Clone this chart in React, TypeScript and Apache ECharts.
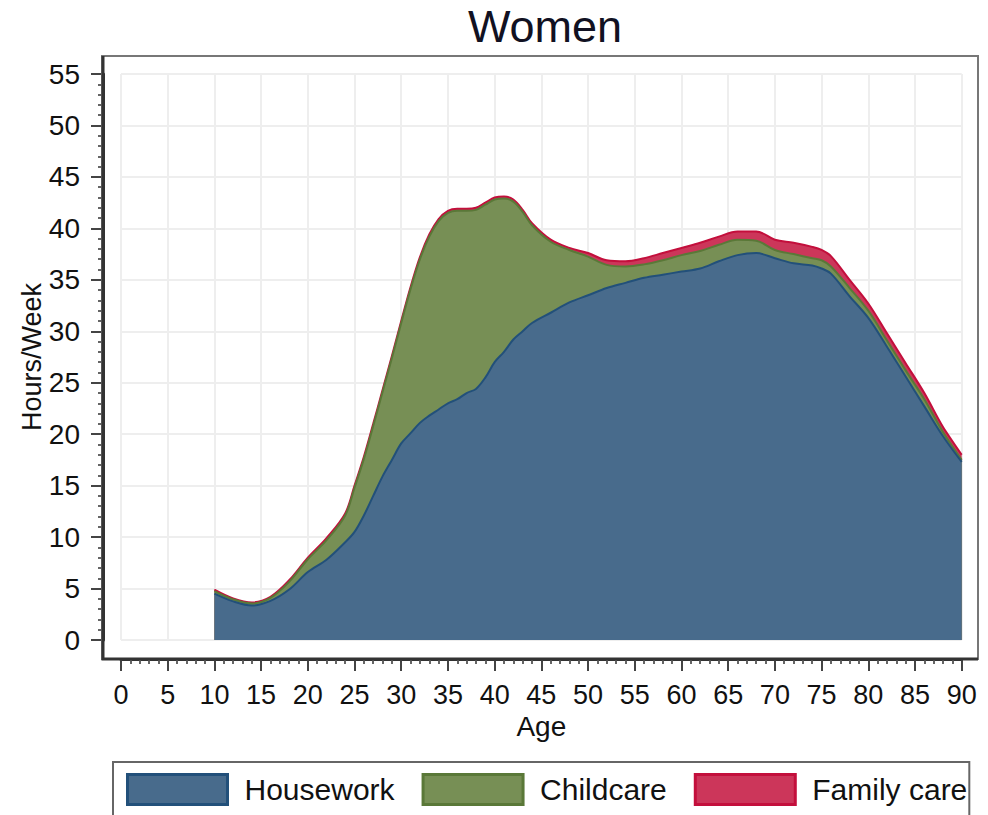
import React, { useEffect, useRef } from "react";
import * as echarts from "echarts";

const titleText = "Women";
const xName = "Age";
const yName = "Hours/Week";
const seriesNames = ["Housework", "Childcare", "Family care"];

const ages = [
  10, 12, 14, 16, 18, 20, 22, 24,
  25, 26, 27, 28, 29, 30, 31, 32, 33, 34, 35, 36, 37, 38, 39, 40, 41, 42, 43, 44,
  46, 48,
  50, 52, 54, 56, 58, 60, 62, 64, 66, 68, 70, 72, 74,
  75, 76,
  78, 80, 82, 84, 86, 88, 90,
];

const housework = [
  4.5, 3.75, 3.35, 3.8, 4.9, 6.6, 7.8, 9.5,
  10.5, 12.1, 14.0, 15.9, 17.5, 19.1, 20.1, 21.1, 21.8, 22.4, 23.0, 23.4, 24.0, 24.4, 25.5, 27.0, 28.0, 29.2, 30.0, 30.8,
  31.8, 32.8,
  33.5, 34.2, 34.7, 35.2, 35.5, 35.8, 36.1, 36.8, 37.4, 37.6, 37.1, 36.6, 36.4,
  36.1, 35.6,
  33.4, 31.3, 28.5, 25.6, 22.7, 19.8, 17.3,
];

const childcare = [
  0.25, 0.2, 0.2, 0.3, 0.75, 1.25, 1.9, 2.6,
  4.3, 5.5, 6.8, 8.2, 9.9, 11.7, 14.0, 15.9, 17.4, 18.3, 18.5, 18.3, 17.7, 17.4, 16.8, 15.8, 14.9, 13.4, 11.6, 9.5,
  6.9, 5.1,
  3.75, 2.25, 1.6, 1.3, 1.4, 1.6, 1.7, 1.6, 1.5, 1.2, 0.8, 0.9, 0.7,
  0.8, 0.7,
  0.8, 0.7, 0.6, 0.6, 0.7, 0.4, 0.2,
];

const familyCare = [
  0.15, 0.1, 0.1, 0.1, 0.15, 0.15, 0.2, 0.2,
  0.2, 0.2, 0.2, 0.2, 0.2, 0.2, 0.2, 0.2, 0.2, 0.2, 0.2, 0.2, 0.2, 0.2, 0.2, 0.2, 0.2, 0.2, 0.2, 0.2,
  0.2, 0.2,
  0.35, 0.45, 0.5, 0.6, 0.7, 0.7, 0.8, 0.8, 0.8, 0.9, 1.0, 1.1, 1.1,
  1.0, 1.0,
  0.8, 0.7, 0.7, 0.7, 0.6, 0.5, 0.5,
];

const fills = ["#486b8c", "#778f55", "#cc365a"];
const strokes = ["#22507a", "#5a7838", "#c30f3c"];

const FONT = "'Liberation Sans', Arial, sans-serif";

export default function App() {
  const ref = useRef<HTMLDivElement>(null);

  useEffect(() => {
    if (!ref.current) return;
    const chart = echarts.init(ref.current, undefined, { renderer: "svg" });
    const layers = [housework, childcare, familyCare];
    // cumulative tops of each layer
    const cumulative = layers.map((_, i) =>
      ages.map((_a, j) => {
        let s = 0;
        for (let k = 0; k <= i; k++) s += layers[k][j];
        return +s.toFixed(3);
      })
    );

    const series = layers.map((_vals, i) => ({
      name: seriesNames[i],
      type: "line",
      smooth: 0.35,
      showSymbol: false,
      symbol: "none",
      data: ages.map((a, j) => [a, cumulative[i][j]]),
      lineStyle: { color: strokes[i], width: 2 },
      itemStyle: { color: fills[i], borderColor: strokes[i], borderWidth: 3 },
      areaStyle: { color: fills[i], opacity: 1, origin: "start" },
      z: 5 - i,
    }));

    chart.setOption({
      animation: false,
      backgroundColor: "#ffffff",
      textStyle: { fontFamily: FONT },
      title: {
        text: titleText,
        left: 540,
        textAlign: "center",
        top: -1,
        textStyle: { fontSize: 45, fontWeight: "normal", color: "#111122", fontFamily: FONT },
      },
      grid: { left: 121, right: 26.3, top: 74, bottom: 175, containLabel: false },
      xAxis: {
        type: "value",
        min: 0,
        max: 90,
        interval: 5,
        offset: 19,
        name: xName,
        nameLocation: "middle",
        nameGap: 53,
        nameMoveOverlap: false,
        nameTextStyle: { fontSize: 28, color: "#111", fontFamily: FONT },
        axisLine: { show: true, onZero: false, lineStyle: { color: "#333", width: 3 } },
        axisTick: { show: true, length: 12, lineStyle: { color: "#444", width: 2 } },
        minorTick: { show: true, splitNumber: 5, length: 5, lineStyle: { color: "#666", width: 2 } },
        axisLabel: { fontSize: 27, color: "#111", margin: 22, fontFamily: FONT },
        splitLine: { show: true, lineStyle: { color: "#eeeeee", width: 2 } },
      },
      yAxis: {
        type: "value",
        min: 0,
        max: 55,
        interval: 5,
        offset: 18,
        name: yName,
        nameLocation: "middle",
        nameGap: 58,
        nameMoveOverlap: false,
        nameTextStyle: { fontSize: 27, color: "#111", fontFamily: FONT },
        axisLine: { show: true, onZero: false, lineStyle: { color: "#333", width: 3 } },
        axisTick: { show: true, length: 12, lineStyle: { color: "#444", width: 2 } },
        minorTick: { show: true, splitNumber: 5, length: 5, lineStyle: { color: "#666", width: 2 } },
        axisLabel: { fontSize: 28, color: "#111", margin: 23, fontFamily: FONT },
        splitLine: { show: true, lineStyle: { color: "#eeeeee", width: 2 } },
      },
      legend: {
        show: true,
        left: 113,
        top: 762,
        orient: "horizontal",
        icon: "rect",
        itemWidth: 100,
        itemHeight: 30,
        itemGap: 27,
        padding: [11, 2, 24, 13],
        borderColor: "#666",
        borderWidth: 2,
        textStyle: { fontSize: 30, color: "#111", padding: [0, 0, 0, 12], fontFamily: FONT },
        data: seriesNames.map((n, i) => ({
          name: n,
          itemStyle: { color: fills[i], borderColor: strokes[i], borderWidth: 3 },
        })),
      },
      graphic: [
        {
          type: "rect",
          shape: { x: 102, y: 56, width: 876, height: 603 },
          style: { fill: "none", stroke: "#777", lineWidth: 2 },
          silent: true,
          z: 10,
        },
        {
          type: "polyline",
          shape: { points: [[103, 56], [103, 659], [978, 659]] },
          style: { fill: "none", stroke: "#333", lineWidth: 3 },
          silent: true,
          z: 11,
        },
      ],
      series,
    });

    return () => chart.dispose();
  }, []);

  return <div ref={ref} style={{ width: 988, height: 815, position: "absolute", left: 0, top: 0 }} />;
}
